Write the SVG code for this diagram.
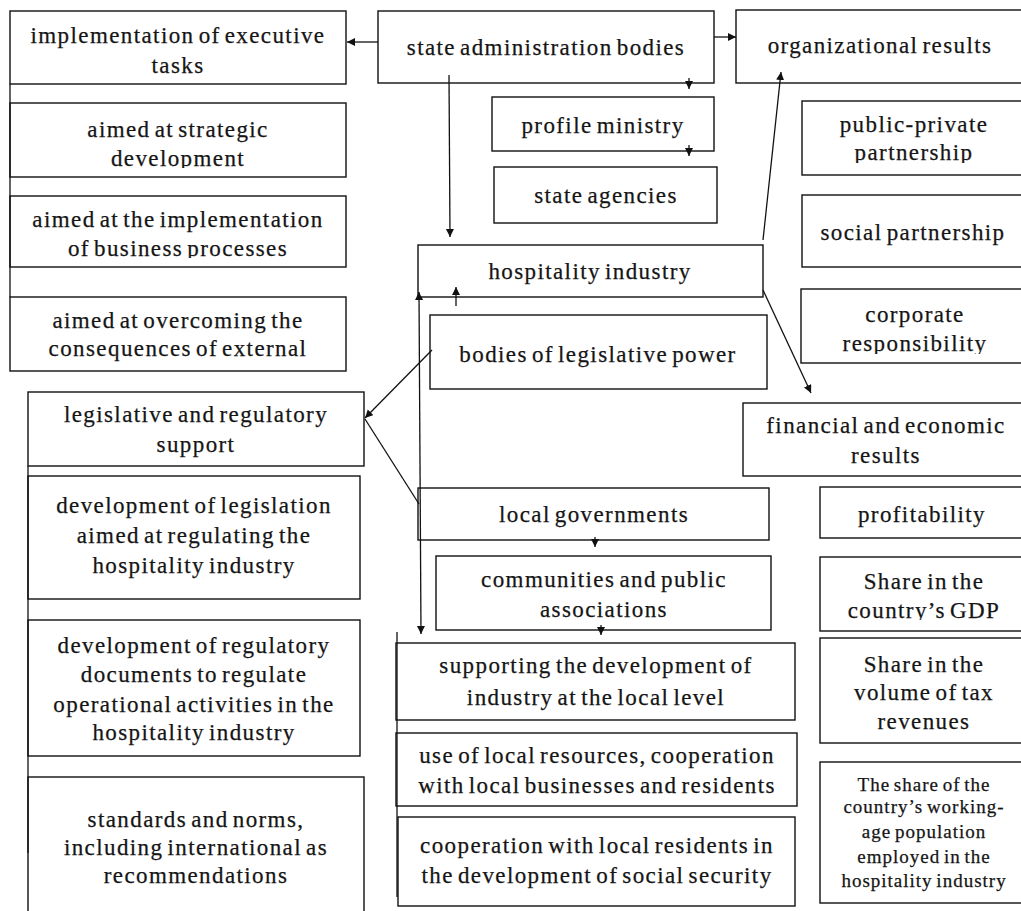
<svg xmlns="http://www.w3.org/2000/svg" width="1021" height="911" viewBox="0 0 1021 911">
<style>
.bx{fill:#fff;stroke:#111;stroke-width:1.4}
.t{font-family:'Liberation Serif','Times New Roman',serif;font-size:23px;letter-spacing:1.4px;word-spacing:-3px;fill:#151515;stroke:#151515;stroke-width:0.25;text-anchor:middle}
.s{font-size:19px;letter-spacing:1px;word-spacing:-2px}
.c{stroke:#111;stroke-width:1.3;fill:none}
.a{marker-end:url(#ah)}
</style>
<defs>
<marker id="ah" markerUnits="userSpaceOnUse" markerWidth="10" markerHeight="10" refX="8" refY="4" orient="auto"><path d="M0,0L8,4L0,8z" fill="#111"/></marker>
<marker id="ahs" markerUnits="userSpaceOnUse" markerWidth="10" markerHeight="10" refX="8" refY="4" orient="auto-start-reverse"><path d="M0,0L8,4L0,8z" fill="#111"/></marker>
<clipPath id="k1"><rect x="0" y="140" width="400" height="28"/></clipPath>
<clipPath id="k2"><rect x="0" y="230" width="400" height="28"/></clipPath>
<clipPath id="k3"><rect x="790" y="135" width="240" height="28"/></clipPath>
<clipPath id="k4"><rect x="790" y="325" width="240" height="29"/></clipPath>
<clipPath id="k5"><rect x="810" y="592" width="220" height="28"/></clipPath>
</defs>
<rect x="0" y="0" width="1021" height="911" fill="#fff"/>

<g id="n-exec"><rect class="bx" x="10" y="11" width="336" height="73"/><text class="t"><tspan x="178" y="43">implementation of executive</tspan><tspan x="178" y="73">tasks</tspan></text></g>
<g id="n-strategic"><rect class="bx" x="10" y="103" width="336" height="74"/><text class="t" x="178" y="137">aimed at strategic</text><text class="t" x="178" y="166" clip-path="url(#k1)">development</text></g>
<g id="n-business"><rect class="bx" x="10" y="196" width="336" height="71"/><text class="t" x="178" y="227">aimed at the implementation</text><text class="t" x="178" y="256" clip-path="url(#k2)">of business processes</text></g>
<g id="n-external"><rect class="bx" x="10" y="297" width="336" height="74"/><text class="t"><tspan x="178" y="328">aimed at overcoming the</tspan><tspan x="178" y="356">consequences of external</tspan></text></g>

<g id="n-state"><rect class="bx" x="378" y="11" width="336" height="72"/><text class="t" x="546" y="55">state administration bodies</text></g>
<g id="n-ministry"><rect class="bx" x="492" y="97" width="222" height="54"/><text class="t" x="603" y="133">profile ministry</text></g>
<g id="n-agencies"><rect class="bx" x="494" y="167" width="223" height="56"/><text class="t" x="606" y="203">state agencies</text></g>
<g id="n-hosp"><rect class="bx" x="418" y="245" width="345" height="52"/><text class="t" x="590" y="279">hospitality industry</text></g>
<g id="n-legpower"><rect class="bx" x="430" y="315" width="337" height="74"/><text class="t" x="598" y="362">bodies of legislative power</text></g>

<g id="n-org"><rect class="bx" x="736" y="10" width="290" height="73"/><text class="t" x="880" y="53">organizational results</text></g>
<g id="n-ppp"><rect class="bx" x="802" y="101" width="226" height="74"/><text class="t" x="914" y="132">public-private</text><text class="t" x="914" y="160" clip-path="url(#k3)">partnership</text></g>
<g id="n-social"><rect class="bx" x="802" y="195" width="226" height="72"/><text class="t" x="913" y="240">social partnership</text></g>
<g id="n-corp"><rect class="bx" x="801" y="289" width="227" height="74"/><text class="t" x="915" y="322">corporate</text><text class="t" x="915" y="351" clip-path="url(#k4)">responsibility</text></g>
<g id="n-fin"><rect class="bx" x="743" y="403" width="287" height="73"/><text class="t"><tspan x="886" y="433">financial and economic</tspan><tspan x="886" y="463">results</tspan></text></g>
<g id="n-profit"><rect class="bx" x="820" y="487" width="208" height="51"/><text class="t" x="922" y="522">profitability</text></g>
<g id="n-gdp"><rect class="bx" x="820" y="557" width="208" height="74"/><text class="t" x="924" y="589">Share in the</text><text class="t" x="924" y="618" clip-path="url(#k5)">country’s GDP</text></g>
<g id="n-tax"><rect class="bx" x="820" y="638" width="208" height="105"/><text class="t"><tspan x="924" y="672">Share in the</tspan><tspan x="924" y="700">volume of tax</tspan><tspan x="924" y="729">revenues</tspan></text></g>
<g id="n-work"><rect class="bx" x="820" y="762" width="208" height="141"/><text class="t s"><tspan x="924" y="791">The share of the</tspan><tspan x="924" y="813">country’s working-</tspan><tspan x="924" y="838">age population</tspan><tspan x="924" y="863">employed in the</tspan><tspan x="924" y="887">hospitality industry</tspan></text></g>

<g id="n-legsupport"><rect class="bx" x="28" y="392" width="336" height="74"/><text class="t"><tspan x="196" y="422">legislative and regulatory</tspan><tspan x="196" y="452">support</tspan></text></g>
<g id="n-devleg"><rect class="bx" x="28" y="476" width="332" height="123"/><text class="t"><tspan x="194" y="513">development of legislation</tspan><tspan x="194" y="543">aimed at regulating the</tspan><tspan x="194" y="573">hospitality industry</tspan></text></g>
<g id="n-devdocs"><rect class="bx" x="28" y="620" width="332" height="136"/><text class="t"><tspan x="194" y="653">development of regulatory</tspan><tspan x="194" y="682">documents to regulate</tspan><tspan x="194" y="712">operational activities in the</tspan><tspan x="194" y="740">hospitality industry</tspan></text></g>
<g id="n-standards"><rect class="bx" x="28" y="777" width="336" height="150"/><text class="t"><tspan x="196" y="827">standards and norms,</tspan><tspan x="196" y="855">including international as</tspan><tspan x="196" y="883">recommendations</tspan></text></g>

<g id="n-localgov"><rect class="bx" x="418" y="488" width="351" height="52"/><text class="t" x="594" y="522">local governments</text></g>
<g id="n-communities"><rect class="bx" x="436" y="556" width="335" height="74"/><text class="t"><tspan x="604" y="587">communities and public</tspan><tspan x="604" y="617">associations</tspan></text></g>
<g id="n-supporting"><rect class="bx" x="396" y="643" width="399" height="77"/><text class="t"><tspan x="596" y="673">supporting the development of</tspan><tspan x="596" y="705">industry at the local level</tspan></text></g>
<g id="n-resources"><rect class="bx" x="396" y="733" width="401" height="73"/><text class="t"><tspan x="597" y="763">use of local resources, cooperation</tspan><tspan x="597" y="793">with local businesses and residents</tspan></text></g>
<g id="n-cooperation"><rect class="bx" x="398" y="817" width="397" height="89"/><text class="t"><tspan x="597" y="853">cooperation with local residents in</tspan><tspan x="597" y="883">the development of social security</tspan></text></g>

<g id="connectors">
<line class="c" x1="10" y1="84" x2="10" y2="297"/>
<line class="c" x1="28" y1="466" x2="28" y2="853"/>
<line class="c" x1="397" y1="632" x2="397" y2="897" stroke-width="2.2"/>
<line class="c a" x1="378" y1="42" x2="347" y2="42"/>
<line class="c a" x1="714" y1="37" x2="736" y2="37"/>
<line class="c a" x1="689" y1="78" x2="689" y2="89"/>
<line class="c a" x1="689" y1="145" x2="689" y2="156"/>
<line class="c a" x1="449" y1="75" x2="450" y2="237"/>
<line class="c a" x1="456" y1="306" x2="456" y2="287"/>
<line class="c" x1="419" y1="292" x2="421" y2="634" marker-start="url(#ahs)" marker-end="url(#ah)"/>
<line class="c a" x1="432" y1="350" x2="365" y2="418"/>
<line class="c" x1="419" y1="504" x2="365" y2="419"/>
<line class="c a" x1="595" y1="537" x2="595" y2="547"/>
<line class="c a" x1="601" y1="625" x2="601" y2="635"/>
<line class="c a" x1="763" y1="240" x2="781" y2="72"/>
<line class="c a" x1="763" y1="290" x2="811" y2="393"/>
</g>
</svg>
